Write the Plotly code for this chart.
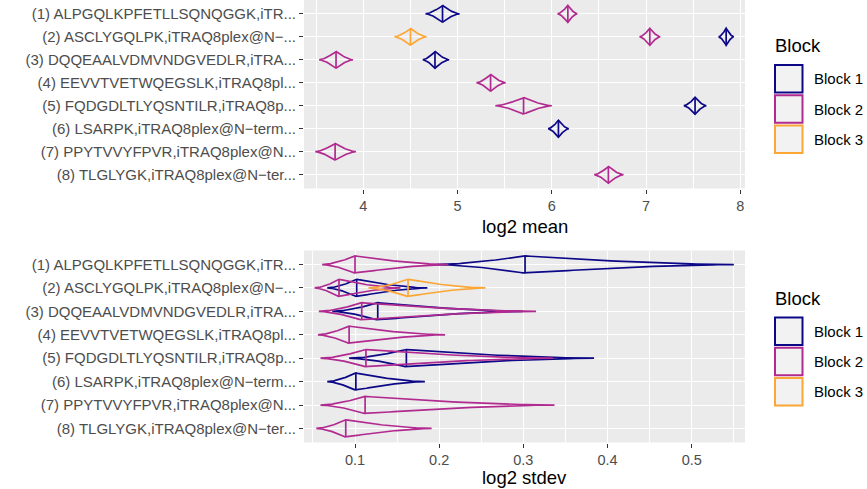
import numpy as np
import plotly.graph_objects as go

# Peptide labels, top to bottom
peptides = [
    "(1) ALPGQLKPFETLLSQNQGGK,iTR...",
    "(2) ASCLYGQLPK,iTRAQ8plex@N\u2212...",
    "(3) DQQEAALVDMVNDGVEDLR,iTRA...",
    "(4) EEVVTVETWQEGSLK,iTRAQ8pl...",
    "(5) FQDGDLTLYQSNTILR,iTRAQ8p...",
    "(6) LSARPK,iTRAQ8plex@N\u2212term...",
    "(7) PPYTVVYFPVR,iTRAQ8plex@N...",
    "(8) TLGLYGK,iTRAQ8plex@N\u2212ter...",
]
blocks = ["Block 1", "Block 2", "Block 3"]
block_colors = ["#0D0887", "#B12A90", "#FCA636"]

# log2 mean violins: peptide number, block number, min / median / max
mean_peptide = [1, 1, 2, 2, 2, 3, 3, 4, 5, 5, 6, 7, 8]
mean_block = [1, 2, 3, 2, 1, 2, 1, 2, 2, 1, 1, 2, 2]
mean_min = [4.66, 6.06, 4.33, 6.93, 7.77, 3.53, 4.63, 5.20, 5.40, 7.40, 5.96, 3.49, 6.45]
mean_med = [4.84, 6.17, 4.50, 7.04, 7.85, 3.71, 4.76, 5.35, 5.70, 7.52, 6.07, 3.70, 6.60]
mean_max = [5.02, 6.27, 4.67, 7.15, 7.93, 3.89, 4.91, 5.51, 6.00, 7.64, 6.18, 3.92, 6.76]

# log2 stdev violins: peptide number, block number, min / median / max
sd_peptide = [1, 1, 2, 2, 2, 3, 3, 4, 5, 5, 6, 7, 8]
sd_block = [1, 2, 1, 2, 3, 1, 2, 2, 1, 2, 1, 2, 2]
sd_min = [0.196, 0.061, 0.067, 0.052, 0.116, 0.073, 0.057, 0.056, 0.093, 0.059, 0.067, 0.059, 0.054]
sd_med = [0.302, 0.100, 0.102, 0.081, 0.163, 0.127, 0.108, 0.093, 0.161, 0.113, 0.101, 0.112, 0.089]
sd_max = [0.550, 0.211, 0.186, 0.154, 0.255, 0.299, 0.315, 0.207, 0.384, 0.335, 0.183, 0.337, 0.191]

mean_ticks = [4, 5, 6, 7, 8]
sd_ticks = [0.1, 0.2, 0.3, 0.4, 0.5]

W, H = 867, 489
HALF = 0.37      # half thickness of each violin, in category units
POWER = 1.6      # taper of the violin outline
LINE_W = 1.7
FONT = "Liberation Sans, Arial, sans-serif"


def px(x):
    return x / W


def py(y):
    return 1 - y / H


def violin_path(lo, mid, hi, yc):
    s = np.linspace(0, 1, 40)
    w = HALF * (1 - s) ** POWER
    left_x = mid - (mid - lo) * s[::-1]
    left_w = w[::-1]
    right_x = mid + (hi - mid) * s
    right_w = w
    xs = np.concatenate([left_x, right_x[1:]])
    ws = np.concatenate([left_w, right_w[1:]])
    X = list(xs) + list(xs[::-1]) + [None, mid, mid]
    Y = list(yc + ws) + list((yc - ws)[::-1]) + [None, yc - HALF, yc + HALF]
    return X, Y


fig = go.Figure()


def add_panel(pep, blk, lo, mid, hi, xa, ya):
    order = sorted(range(len(pep)), key=lambda i: blk[i])
    for i in order:
        yc = len(peptides) + 1 - pep[i]
        X, Y = violin_path(lo[i], mid[i], hi[i], yc)
        fig.add_trace(go.Scatter(
            x=X, y=Y, mode="lines", xaxis=xa, yaxis=ya,
            line=dict(color=block_colors[blk[i] - 1], width=LINE_W),
            showlegend=False, hoverinfo="skip",
        ))


add_panel(mean_peptide, mean_block, mean_min, mean_med, mean_max, "x", "y")
add_panel(sd_peptide, sd_block, sd_min, sd_med, sd_max, "x2", "y2")

panel_x = [px(304), px(745)]
top_y = [py(188.5), py(0)]
bot_y = [py(442.5), py(250.5)]

xtick_font = dict(family=FONT, size=14.5, color="#4D4D4D")
ytick_font = dict(family=FONT, size=15, color="#4D4D4D")
cat_vals = [len(peptides) + 1 - k for k in range(1, len(peptides) + 1)]

xcommon = dict(
    showgrid=True, gridcolor="white", gridwidth=1.1, zeroline=False,
    ticks="outside", ticklen=4, tickwidth=1, tickcolor="#333333",
    tickfont=xtick_font, showline=False,
)
ycommon = dict(
    tickmode="array", tickvals=cat_vals, ticktext=peptides,
    range=[0.4, len(peptides) + 0.6], showgrid=True, gridcolor="white",
    gridwidth=1.1, zeroline=False, ticks="outside", ticklen=4, tickwidth=1,
    tickcolor="#333333", tickfont=ytick_font, showline=False,
)

fig.update_layout(
    width=W, height=H,
    margin=dict(l=0, r=0, t=0, b=0),
    paper_bgcolor="white", plot_bgcolor="#EBEBEB",
    showlegend=False,
    xaxis=dict(domain=panel_x, anchor="y", range=[3.37, 8.05],
               tickmode="array", tickvals=mean_ticks,
               ticktext=[str(v) for v in mean_ticks],
               minor=dict(showgrid=True, gridcolor="white", gridwidth=0.5,
                          dtick=0.5, tick0=0), **xcommon),
    yaxis=dict(domain=top_y, anchor="x", **ycommon),
    xaxis2=dict(domain=panel_x, anchor="y2", range=[0.0394, 0.5633],
                tickmode="array", tickvals=sd_ticks,
                ticktext=[f"{v:.1f}" for v in sd_ticks],
                minor=dict(showgrid=True, gridcolor="white", gridwidth=0.5,
                           dtick=0.05, tick0=0), **xcommon),
    yaxis2=dict(domain=bot_y, anchor="x2", **ycommon),
)

title_font = dict(family=FONT, size=18.5, color="black")
annotations = [
    dict(text="log2 mean", x=px(524.5), y=py(226), xref="paper", yref="paper",
         showarrow=False, xanchor="center", yanchor="middle", font=title_font),
    dict(text="log2 stdev", x=px(524.5), y=py(477), xref="paper", yref="paper",
         showarrow=False, xanchor="center", yanchor="middle", font=title_font),
]
shapes = []

# Legends for the two panels
legend_font = dict(family=FONT, size=15, color="black")
for title_y, first_key_y in [(45, 65), (298, 317.5)]:
    annotations.append(dict(
        text="Block", x=px(773), y=py(title_y), xref="paper", yref="paper",
        showarrow=False, xanchor="left", yanchor="middle", font=title_font))
    for k, (name, col) in enumerate(zip(blocks, block_colors)):
        y0 = first_key_y + k * 30.3
        y1 = y0 + 27.5
        shapes.append(dict(
            type="rect", xref="paper", yref="paper",
            x0=px(775), x1=px(802.5), y0=py(y1), y1=py(y0),
            fillcolor="#F2F2F2", line=dict(color=col, width=2)))
        annotations.append(dict(
            text=name, x=px(812), y=py((y0 + y1) / 2), xref="paper", yref="paper",
            showarrow=False, xanchor="left", yanchor="middle", font=legend_font))

fig.update_layout(annotations=annotations, shapes=shapes)
fig.write_html("out.html")
